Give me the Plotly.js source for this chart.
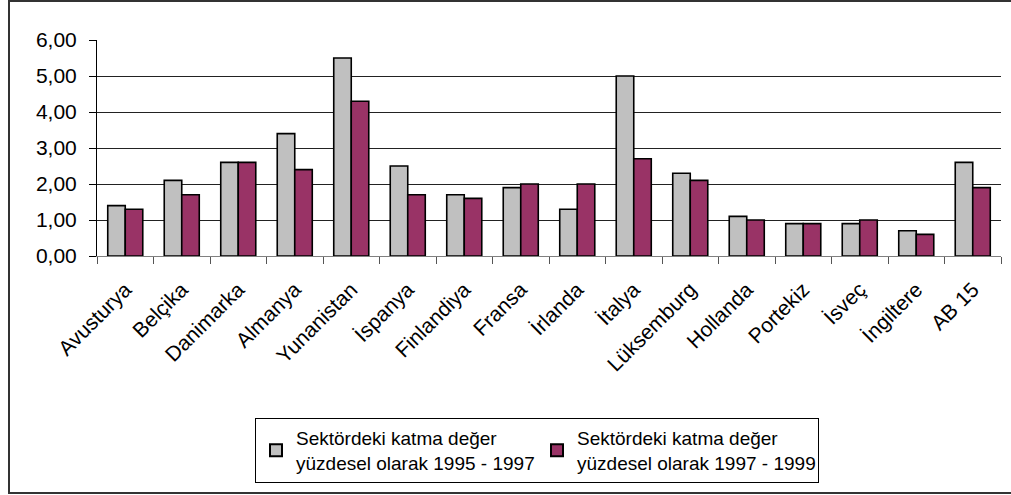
<!DOCTYPE html>
<html>
<head>
<meta charset="utf-8">
<script src="https://cdn.plot.ly/plotly-3.0.1.min.js"></script>
<style>
html,body{margin:0;padding:0;background:#fff;}
#chart{width:1011px;height:495px;}
</style>
</head>
<body>
<div id="chart"></div>
<script>
const categories = ["Avusturya","Belçika","Danimarka","Almanya","Yunanistan","İspanya","Finlandiya","Fransa","İrlanda","İtalya","Lüksemburg","Hollanda","Portekiz","İsveç","İngiltere","AB 15"];
const series1995 = [1.4,2.1,2.6,3.4,5.5,2.5,1.7,1.9,1.3,5.0,2.3,1.1,0.9,0.9,0.7,2.6];
const series1997 = [1.3,1.7,2.6,2.4,4.3,1.7,1.6,2.0,2.0,2.7,2.1,1.0,0.9,1.0,0.6,1.9];
const seriesNames = ["Sektördeki katma değer<br>yüzdesel olarak 1995 - 1997","Sektördeki katma değer<br>yüzdesel olarak 1997 - 1999"];
const yTicks = [0,1,2,3,4,5,6];

const fam = "Liberation Sans, Arial, sans-serif";

const traces = [
  {type:"bar", x:categories, y:series1995, name:seriesNames[0],
   marker:{color:"#C0C0C0", line:{color:"#000", width:1.6}}},
  {type:"bar", x:categories, y:series1997, name:seriesNames[1],
   marker:{color:"#993366", line:{color:"#000", width:1.6}}}
];

const L = 97, R = 1001, T = 40, B = 256, W = 1011, H = 495;
const px2x = p => (p - L) / (R - L);
const px2y = p => (B - p) / (B - T);

const layout = {
  width: W, height: H,
  margin: {l: L, r: W - R, t: T, b: H - B, pad: 0},
  paper_bgcolor: "#fff", plot_bgcolor: "#fff",
  font: {family: fam, size: 19, color: "#000"},
  separators: ",.",
  barmode: "group",
  bargap: 0.38,
  bargroupgap: 0,
  showlegend: true,
  legend: {
    orientation: "h",
    x: px2x(255), xanchor: "left",
    y: px2y(418), yanchor: "top",
    bordercolor: "#000", borderwidth: 1,
    font: {family: fam, size: 19, color: "#000"},
    entrywidth: 236, entrywidthmode: "pixels",
    itemsizing: "constant",
    traceorder: "normal"
  },
  xaxis: {
    type: "category",
    tickangle: -45,
    tickson: "boundaries",
    ticks: "outside", ticklen: 7, tickcolor: "#555", tickwidth: 1,
    showline: true, linecolor: "#808080", linewidth: 1,
    showgrid: false,
    ticklabelstandoff: 12,
    tickfont: {family: fam, size: 21, color: "#000"},
    fixedrange: true
  },
  yaxis: {
    range: [0, 6],
    tickvals: yTicks,
    tickformat: ".2f",
    ticks: "outside", ticklen: 7, tickcolor: "#000", tickwidth: 1,
    showline: true, linecolor: "#000", linewidth: 1,
    showgrid: true, gridcolor: "#222", gridwidth: 1,
    zeroline: false,
    ticklabelstandoff: 8,
    tickfont: {family: fam, size: 21, color: "#000"},
    fixedrange: true
  },
  shapes: [
    {type: "rect", xref: "paper", yref: "paper",
     x0: px2x(9), x1: px2x(1015), y0: px2y(493), y1: px2y(1),
     line: {color: "#333", width: 2}, fillcolor: "rgba(0,0,0,0)", layer: "below"}
  ]
};

Plotly.newPlot("chart", traces, layout, {displayModeBar: false, staticPlot: true});
</script>
</body>
</html>
